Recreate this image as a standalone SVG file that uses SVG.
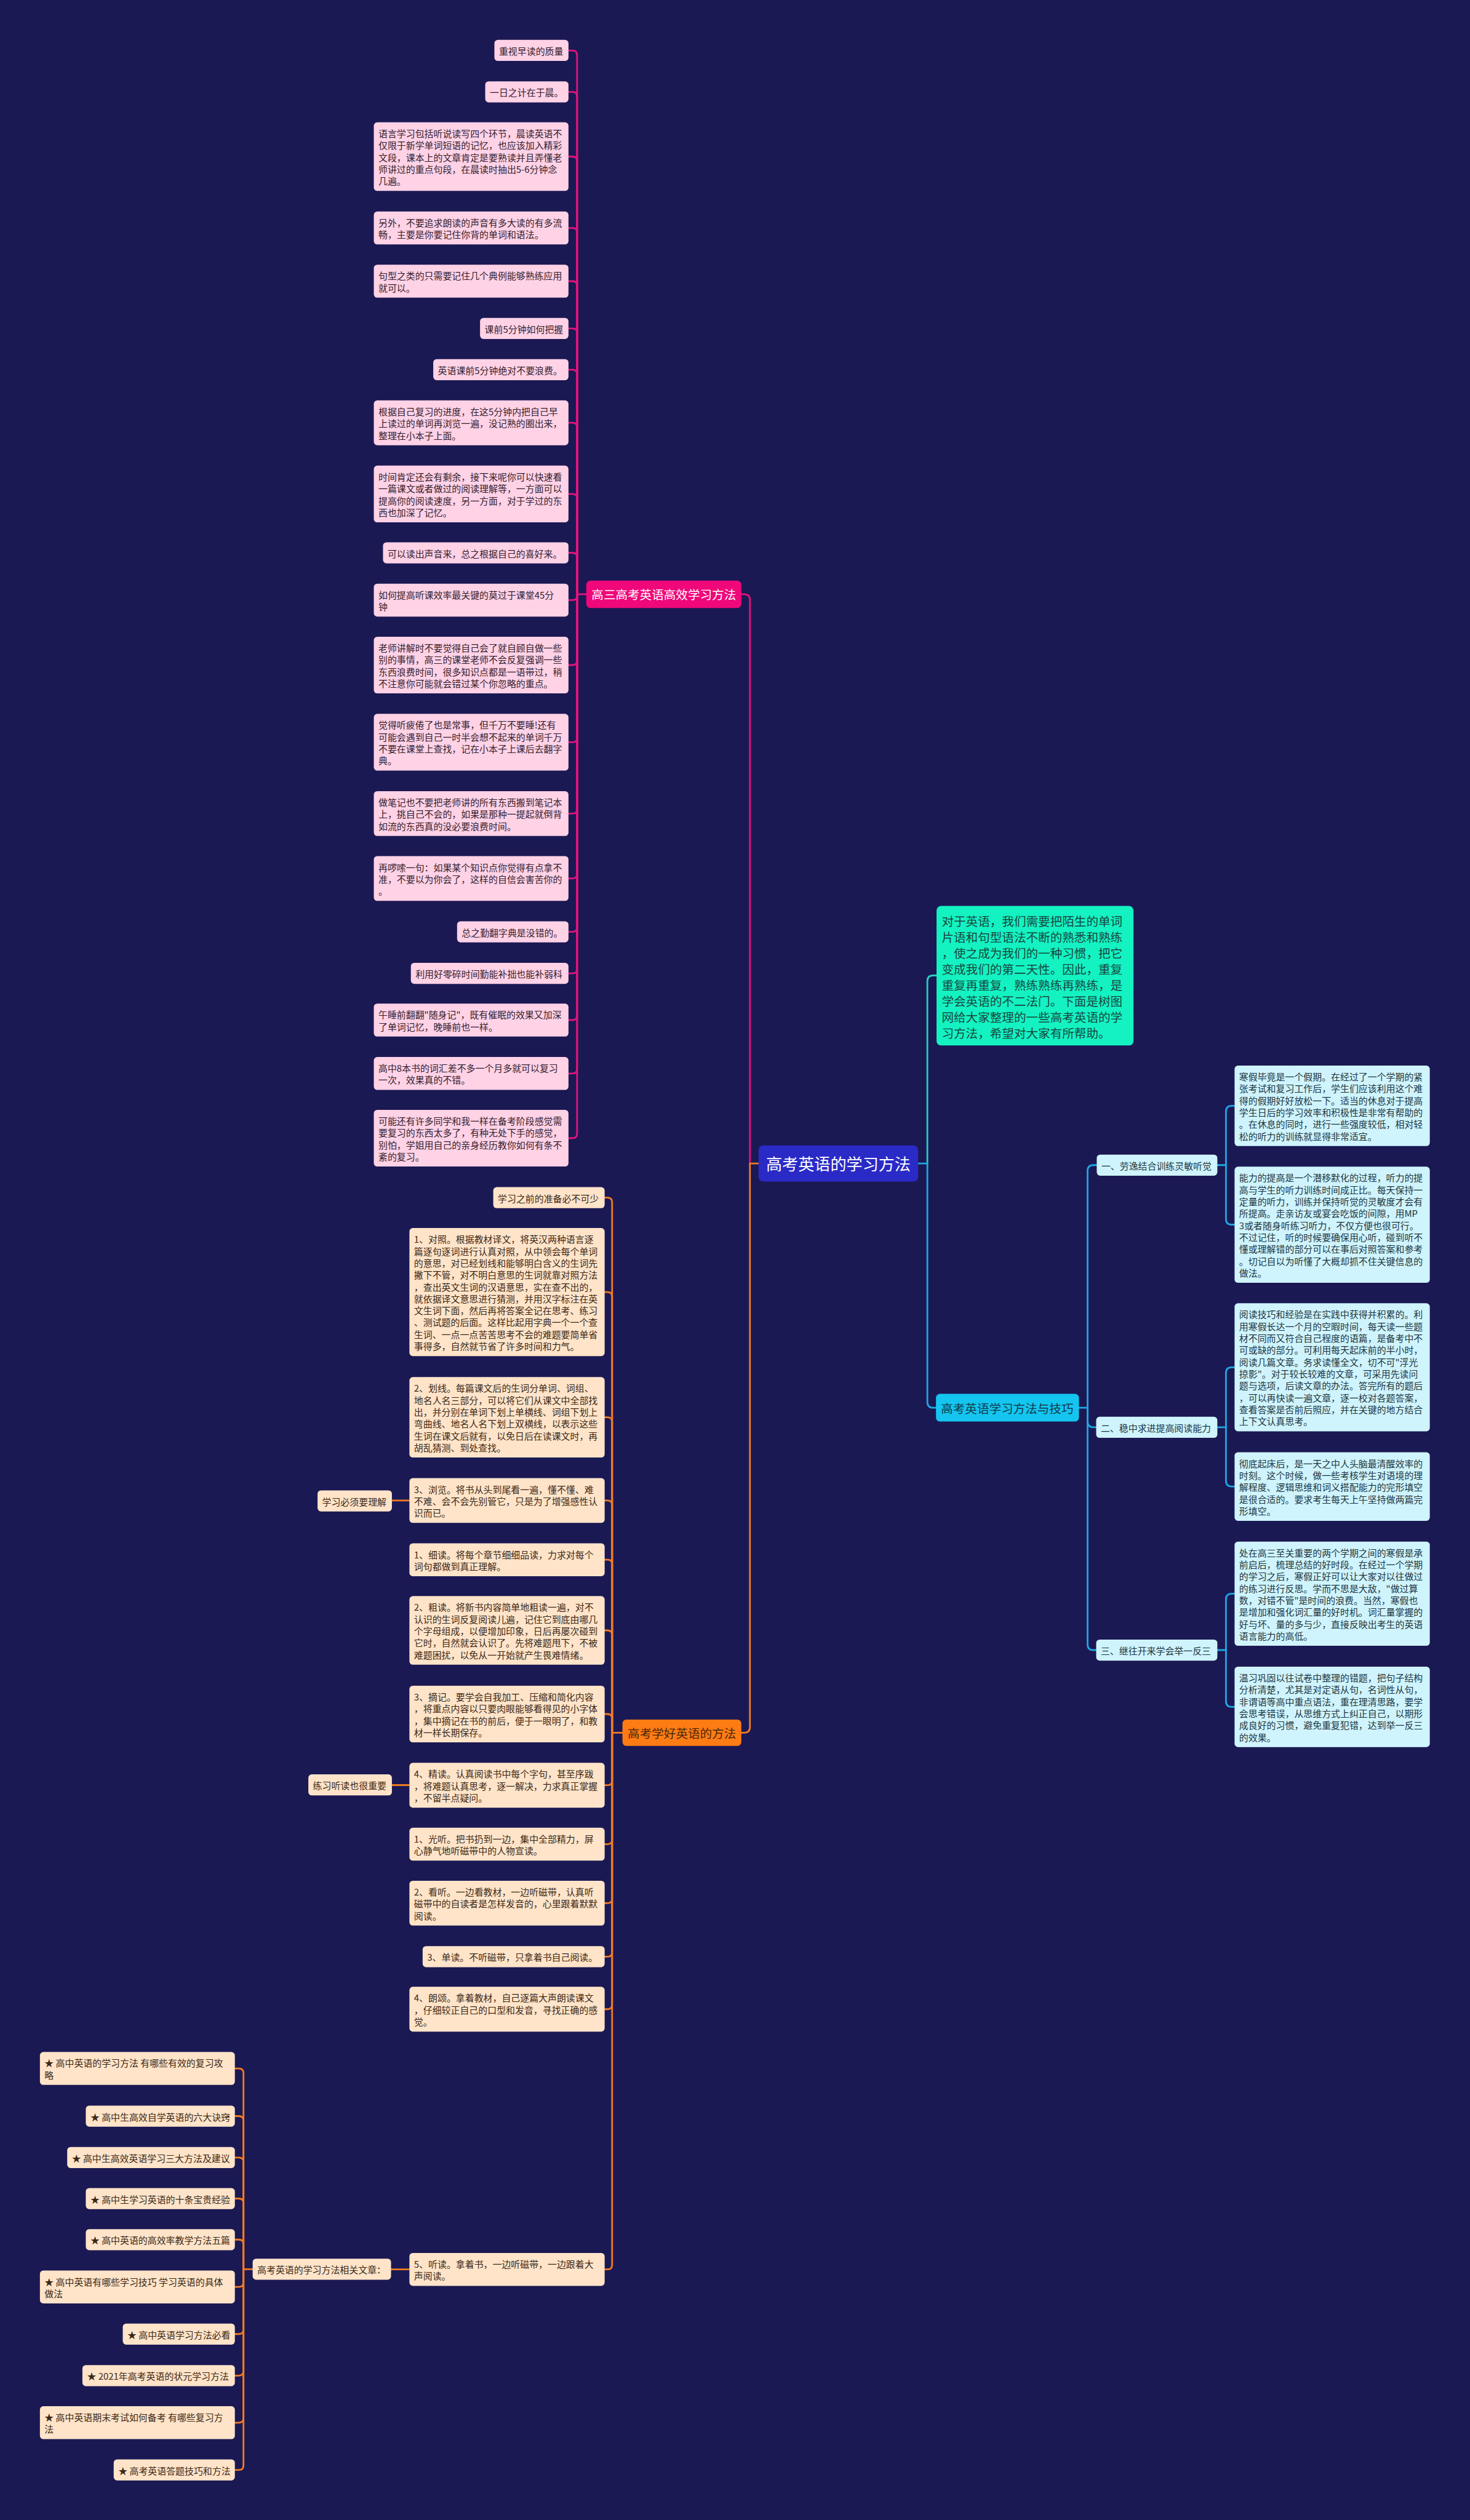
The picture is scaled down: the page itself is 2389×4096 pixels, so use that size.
<svg xmlns="http://www.w3.org/2000/svg" width="2389" height="4096" viewBox="0 0 2389 4096">
<style>
.c{fill:none;stroke-width:3;stroke-linecap:round;stroke-linejoin:round}
.cp{stroke:#e5137d}.co{stroke:#f27b22}.cb{stroke:#1ea8e4}.cg{stroke:#22cfc0}
.pk{fill:#ffd2e6}.or{fill:#ffe4c9}.bl{fill:#cff4fd}
.t{font-family:"Noto Sans CJK SC","Noto Sans",sans-serif;font-size:16px;dominant-baseline:central}
.tp{fill:#33202c}.to{fill:#3b2816}.tb{fill:#1c3440}
.big{font-family:"Noto Sans CJK SC","Noto Sans",sans-serif;dominant-baseline:central;text-anchor:middle}
</style>
<rect width="2389" height="4096" fill="#1b1953"/>
<g transform="scale(0.9332)">
<g id="connectors">
<path class="c co" d="M1321 2026.5 H1306"/>
<path class="c cp" d="M1306 2026.5 V1045 Q1306 1035 1296 1035 H1291"/>
<path class="c co" d="M1306 2026.5 V3008 Q1306 3018 1296 3018 H1291"/>
<path class="c cb" d="M1599 2026.5 H1615"/>
<path class="c cg" d="M1615 2026.5 V1709 Q1615 1699 1625 1699 H1631"/>
<path class="c cb" d="M1615 2026.5 V2442 Q1615 2452 1625 2452 H1630"/>
<path class="c cp" d="M1021 1035 H1005"/>
<path class="c cp" d="M1005 1035 V95.9 Q1005 87.9 997 87.9 H990"/>
<path class="c cp" d="M1005 1035 V168 Q1005 160 997 160 H990"/>
<path class="c cp" d="M1005 1035 V280.7 Q1005 272.7 997 272.7 H990"/>
<path class="c cp" d="M1005 1035 V405.1 Q1005 397.1 997 397.1 H990"/>
<path class="c cp" d="M1005 1035 V497.7 Q1005 489.7 997 489.7 H990"/>
<path class="c cp" d="M1005 1035 V580 Q1005 572 997 572 H990"/>
<path class="c cp" d="M1005 1035 V651.8 Q1005 643.8 997 643.8 H990"/>
<path class="c cp" d="M1005 1035 V744.4 Q1005 736.4 997 736.4 H990"/>
<path class="c cp" d="M1005 1035 V868.4 Q1005 860.4 997 860.4 H990"/>
<path class="c cp" d="M1005 1035 V970.8 Q1005 962.8 997 962.8 H990"/>
<path class="c cp" d="M1005 1035 V1037.3 Q1005 1045.3 997 1045.3 H990"/>
<path class="c cp" d="M1005 1035 V1150.4 Q1005 1158.4 997 1158.4 H990"/>
<path class="c cp" d="M1005 1035 V1284.8 Q1005 1292.8 997 1292.8 H990"/>
<path class="c cp" d="M1005 1035 V1409 Q1005 1417 997 1417 H990"/>
<path class="c cp" d="M1005 1035 V1522 Q1005 1530 997 1530 H990"/>
<path class="c cp" d="M1005 1035 V1615 Q1005 1623 997 1623 H990"/>
<path class="c cp" d="M1005 1035 V1687.4 Q1005 1695.4 997 1695.4 H990"/>
<path class="c cp" d="M1005 1035 V1768.7 Q1005 1776.7 997 1776.7 H990"/>
<path class="c cp" d="M1005 1035 V1861.7 Q1005 1869.7 997 1869.7 H990"/>
<path class="c cp" d="M1005 1035 V1974.4 Q1005 1982.4 997 1982.4 H990"/>
<path class="c co" d="M1084 3018 H1066"/>
<path class="c co" d="M1066 3018 V2094 Q1066 2086 1058 2086 H1053"/>
<path class="c co" d="M1066 3018 V2258.5 Q1066 2250.5 1058 2250.5 H1053"/>
<path class="c co" d="M1066 3018 V2476.6 Q1066 2468.6 1058 2468.6 H1053"/>
<path class="c co" d="M1066 3018 V2621.5 Q1066 2613.5 1058 2613.5 H1053"/>
<path class="c co" d="M1066 3018 V2724.7 Q1066 2716.7 1058 2716.7 H1053"/>
<path class="c co" d="M1066 3018 V2847.7 Q1066 2839.7 1058 2839.7 H1053"/>
<path class="c co" d="M1066 3018 V2993.4 Q1066 2985.4 1058 2985.4 H1053"/>
<path class="c co" d="M1066 3018 V3101.4 Q1066 3109.4 1058 3109.4 H1053"/>
<path class="c co" d="M1066 3018 V3204.1 Q1066 3212.1 1058 3212.1 H1053"/>
<path class="c co" d="M1066 3018 V3306.8 Q1066 3314.8 1058 3314.8 H1053"/>
<path class="c co" d="M1066 3018 V3400 Q1066 3408 1058 3408 H1053"/>
<path class="c co" d="M1066 3018 V3491.5 Q1066 3499.5 1058 3499.5 H1053"/>
<path class="c co" d="M1066 3018 V3944.7 Q1066 3952.7 1058 3952.7 H1053"/>
<path class="c co" d="M713 2613.5 H682.5"/>
<path class="c co" d="M713 3109.2 H682.5"/>
<path class="c co" d="M713 3952.6 H681"/>
<path class="c co" d="M440 3952.5 H424"/>
<path class="c co" d="M424 3952.5 V3610.7 Q424 3602.7 416 3602.7 H409"/>
<path class="c co" d="M424 3952.5 V3693.7 Q424 3685.7 416 3685.7 H409"/>
<path class="c co" d="M424 3952.5 V3765.8 Q424 3757.8 416 3757.8 H409"/>
<path class="c co" d="M424 3952.5 V3837.3 Q424 3829.3 416 3829.3 H409"/>
<path class="c co" d="M424 3952.5 V3908.8 Q424 3900.8 416 3900.8 H409"/>
<path class="c co" d="M424 3952.5 V3975.3 Q424 3983.3 416 3983.3 H409"/>
<path class="c co" d="M424 3952.5 V4057.3 Q424 4065.3 416 4065.3 H409"/>
<path class="c co" d="M424 3952.5 V4129.7 Q424 4137.7 416 4137.7 H409"/>
<path class="c co" d="M424 3952.5 V4211.7 Q424 4219.7 416 4219.7 H409"/>
<path class="c co" d="M424 3952.5 V4294 Q424 4302 416 4302 H409"/>
<path class="c cb" d="M1878.6 2452 H1894"/>
<path class="c cb" d="M1894 2452 V2039.3 Q1894 2029.3 1904 2029.3 H1910"/>
<path class="c cb" d="M1894 2452 V2476 Q1894 2486 1904 2486 H1909"/>
<path class="c cb" d="M1894 2452 V2864 Q1894 2874 1904 2874 H1909"/>
<path class="c cb" d="M2120 2029.3 H2135"/>
<path class="c cb" d="M2135 2029.3 V1936 Q2135 1926 2145 1926 H2150"/>
<path class="c cb" d="M2135 2029.3 V2123 Q2135 2133 2145 2133 H2150"/>
<path class="c cb" d="M2120 2486 H2135"/>
<path class="c cb" d="M2135 2486 V2391.5 Q2135 2381.5 2145 2381.5 H2150"/>
<path class="c cb" d="M2135 2486 V2579 Q2135 2589 2145 2589 H2150"/>
<path class="c cb" d="M2120 2874 H2135"/>
<path class="c cb" d="M2135 2874 V2785.8 Q2135 2775.8 2145 2775.8 H2150"/>
<path class="c cb" d="M2135 2874 V2962.9 Q2135 2972.9 2145 2972.9 H2150"/>
</g>

<g id="root">
<rect x="1321" y="1995" width="278" height="63" rx="8" fill="#2a2ac6"/>
<text class="big" x="1460" y="2026.5" font-size="28" fill="#ffffff">高考英语的学习方法</text>
</g>

<g id="branch-pink">
<rect x="1021" y="1011.3" width="270" height="47.7" rx="7" fill="#f0077a"/>
<text class="big" x="1156" y="1035" font-size="21" fill="#ffffff">高三高考英语高效学习方法</text>
</g>
<g id="p1"><rect class="pk" x="861" y="69.5" width="129" height="36.7" rx="6"/><text class="t tp"><tspan x="869" y="87.85">重视早读的质量</tspan></text></g>
<g id="p2"><rect class="pk" x="845" y="141.6" width="145" height="36.7" rx="6"/><text class="t tp"><tspan x="853" y="159.95">一日之计在于晨。</tspan></text></g>
<g id="p3"><rect class="pk" x="651" y="213" width="339" height="119.5" rx="6"/><text class="t tp"><tspan x="659" y="231.35">语言学习包括听说读写四个环节，晨读英语不</tspan><tspan x="659" y="252.05">仅限于新学单词短语的记忆，也应该加入精彩</tspan><tspan x="659" y="272.75">文段，课本上的文章肯定是要熟读并且弄懂老</tspan><tspan x="659" y="293.45">师讲过的重点句段，在晨读时抽出5-6分钟念</tspan><tspan x="659" y="314.15">几遍。</tspan></text></g>
<g id="p4"><rect class="pk" x="651" y="368.4" width="339" height="57.4" rx="6"/><text class="t tp"><tspan x="659" y="386.75">另外，不要追求朗读的声音有多大读的有多流</tspan><tspan x="659" y="407.45">畅，主要是你要记住你背的单词和语法。</tspan></text></g>
<g id="p5"><rect class="pk" x="651" y="461" width="339" height="57.4" rx="6"/><text class="t tp"><tspan x="659" y="479.35">句型之类的只需要记住几个典例能够熟练应用</tspan><tspan x="659" y="500.05">就可以。</tspan></text></g>
<g id="p6"><rect class="pk" x="836" y="553.7" width="154" height="36.7" rx="6"/><text class="t tp"><tspan x="844" y="572.05">课前5分钟如何把握</tspan></text></g>
<g id="p7"><rect class="pk" x="754.5" y="625.5" width="235.5" height="36.7" rx="6"/><text class="t tp"><tspan x="762.5" y="643.85">英语课前5分钟绝对不要浪费。</tspan></text></g>
<g id="p8"><rect class="pk" x="651" y="697.4" width="339" height="78.1" rx="6"/><text class="t tp"><tspan x="659" y="715.75">根据自己复习的进度，在这5分钟内把自己早</tspan><tspan x="659" y="736.45">上读过的单词再浏览一遍，没记熟的圈出来，</tspan><tspan x="659" y="757.15">整理在小本子上面。</tspan></text></g>
<g id="p9"><rect class="pk" x="651" y="811" width="339" height="98.8" rx="6"/><text class="t tp"><tspan x="659" y="829.35">时间肯定还会有剩余，接下来呢你可以快速看</tspan><tspan x="659" y="850.05">一篇课文或者做过的阅读理解等，一方面可以</tspan><tspan x="659" y="870.75">提高你的阅读速度，另一方面，对于学过的东</tspan><tspan x="659" y="891.45">西也加深了记忆。</tspan></text></g>
<g id="p10"><rect class="pk" x="667" y="944.5" width="323" height="36.7" rx="6"/><text class="t tp"><tspan x="675" y="962.85">可以读出声音来，总之根据自己的喜好来。</tspan></text></g>
<g id="p11"><rect class="pk" x="651" y="1016.6" width="339" height="57.4" rx="6"/><text class="t tp"><tspan x="659" y="1034.95">如何提高听课效率最关键的莫过于课堂45分</tspan><tspan x="659" y="1055.65">钟</tspan></text></g>
<g id="p12"><rect class="pk" x="651" y="1109" width="339" height="98.8" rx="6"/><text class="t tp"><tspan x="659" y="1127.35">老师讲解时不要觉得自己会了就自顾自做一些</tspan><tspan x="659" y="1148.05">别的事情，高三的课堂老师不会反复强调一些</tspan><tspan x="659" y="1168.75">东西浪费时间，很多知识点都是一语带过，稍</tspan><tspan x="659" y="1189.45">不注意你可能就会错过某个你忽略的重点。</tspan></text></g>
<g id="p13"><rect class="pk" x="651" y="1243.4" width="339" height="98.8" rx="6"/><text class="t tp"><tspan x="659" y="1261.75">觉得听疲倦了也是常事，但千万不要睡!还有</tspan><tspan x="659" y="1282.45">可能会遇到自己一时半会想不起来的单词千万</tspan><tspan x="659" y="1303.15">不要在课堂上查找，记在小本子上课后去翻字</tspan><tspan x="659" y="1323.85">典。</tspan></text></g>
<g id="p14"><rect class="pk" x="651" y="1378" width="339" height="78.1" rx="6"/><text class="t tp"><tspan x="659" y="1396.35">做笔记也不要把老师讲的所有东西搬到笔记本</tspan><tspan x="659" y="1417.05">上，挑自己不会的，如果是那种一提起就倒背</tspan><tspan x="659" y="1437.75">如流的东西真的没必要浪费时间。</tspan></text></g>
<g id="p15"><rect class="pk" x="651" y="1491" width="339" height="78.1" rx="6"/><text class="t tp"><tspan x="659" y="1509.35">再啰嗦一句：如果某个知识点你觉得有点拿不</tspan><tspan x="659" y="1530.05">准，不要以为你会了，这样的自信会害苦你的</tspan><tspan x="659" y="1550.75">。</tspan></text></g>
<g id="p16"><rect class="pk" x="796" y="1604.6" width="194" height="36.7" rx="6"/><text class="t tp"><tspan x="804" y="1622.95">总之勤翻字典是没错的。</tspan></text></g>
<g id="p17"><rect class="pk" x="715.5" y="1677" width="274.5" height="36.7" rx="6"/><text class="t tp"><tspan x="723.5" y="1695.35">利用好零碎时间勤能补拙也能补弱科</tspan></text></g>
<g id="p18"><rect class="pk" x="651" y="1748" width="339" height="57.4" rx="6"/><text class="t tp"><tspan x="659" y="1766.35">午睡前翻翻"随身记"，既有催眠的效果又加深</tspan><tspan x="659" y="1787.05">了单词记忆，晚睡前也一样。</tspan></text></g>
<g id="p19"><rect class="pk" x="651" y="1841" width="339" height="57.4" rx="6"/><text class="t tp"><tspan x="659" y="1859.35">高中8本书的词汇差不多一个月多就可以复习</tspan><tspan x="659" y="1880.05">一次，效果真的不错。</tspan></text></g>
<g id="p20"><rect class="pk" x="651" y="1933" width="339" height="98.8" rx="6"/><text class="t tp"><tspan x="659" y="1951.35">可能还有许多同学和我一样在备考阶段感觉需</tspan><tspan x="659" y="1972.05">要复习的东西太多了，有种无处下手的感觉，</tspan><tspan x="659" y="1992.75">别怕，学姐用自己的亲身经历教你如何有条不</tspan><tspan x="659" y="2013.45">紊的复习。</tspan></text></g>

<g id="branch-orange">
<rect x="1084" y="2995" width="207" height="46" rx="7" fill="#ff7c14"/>
<text class="big" x="1187.5" y="3018" font-size="21" fill="#4a2606">高考学好英语的方法</text>
</g>
<g id="o1"><rect class="or" x="859" y="2067.7" width="194" height="36.7" rx="6"/><text class="t to"><tspan x="867" y="2086.05">学习之前的准备必不可少</tspan></text></g>
<g id="o2"><rect class="or" x="713" y="2139" width="340" height="223" rx="6"/><text class="t to"><tspan x="721" y="2157.35">1、对照。根据教材译文，将英汉两种语言逐</tspan><tspan x="721" y="2178.05">篇逐句逐词进行认真对照，从中领会每个单词</tspan><tspan x="721" y="2198.75">的意思，对已经划线和能够明白含义的生词先</tspan><tspan x="721" y="2219.45">撇下不管，对不明白意思的生词就靠对照方法</tspan><tspan x="721" y="2240.15">，查出英文生词的汉语意思，实在查不出的，</tspan><tspan x="721" y="2260.85">就依据译文意思进行猜测，并用汉字标注在英</tspan><tspan x="721" y="2281.55">文生词下面，然后再将答案全记在思考、练习</tspan><tspan x="721" y="2302.25">、测试题的后面。这样比起用字典一个一个查</tspan><tspan x="721" y="2322.95">生词、一点一点苦苦思考不会的难题要简单省</tspan><tspan x="721" y="2343.65">事得多，自然就节省了许多时间和力气。</tspan></text></g>
<g id="o3"><rect class="or" x="713" y="2398.5" width="340" height="140.2" rx="6"/><text class="t to"><tspan x="721" y="2416.85">2、划线。每篇课文后的生词分单词、词组、</tspan><tspan x="721" y="2437.55">地名人名三部分，可以将它们从课文中全部找</tspan><tspan x="721" y="2458.25">出，并分别在单词下划上单横线、词组下划上</tspan><tspan x="721" y="2478.95">弯曲线、地名人名下划上双横线，以表示这些</tspan><tspan x="721" y="2499.65">生词在课文后就有，以免日后在读课文时，再</tspan><tspan x="721" y="2520.35">胡乱猜测、到处查找。</tspan></text></g>
<g id="o4"><rect class="or" x="713" y="2574.4" width="340" height="78.1" rx="6"/><text class="t to"><tspan x="721" y="2592.75">3、浏览。将书从头到尾看一遍，懂不懂、难</tspan><tspan x="721" y="2613.45">不难、会不会先别管它，只是为了增强感性认</tspan><tspan x="721" y="2634.15">识而已。</tspan></text></g>
<g id="s1"><rect class="or" x="553" y="2595.8" width="129.5" height="36.7" rx="6"/><text class="t to"><tspan x="561" y="2614.15">学习必须要理解</tspan></text></g>
<g id="o5"><rect class="or" x="713" y="2688" width="340" height="57.4" rx="6"/><text class="t to"><tspan x="721" y="2706.35">1、细读。将每个章节细细品读，力求对每个</tspan><tspan x="721" y="2727.05">词句都做到真正理解。</tspan></text></g>
<g id="o6"><rect class="or" x="713" y="2780" width="340" height="119.5" rx="6"/><text class="t to"><tspan x="721" y="2798.35">2、粗读。将新书内容简单地粗读一遍，对不</tspan><tspan x="721" y="2819.05">认识的生词反复阅读儿遍，记住它到底由哪几</tspan><tspan x="721" y="2839.75">个字母组成，以便增加印象，日后再屡次碰到</tspan><tspan x="721" y="2860.45">它时，自然就会认识了。先将难题甩下，不被</tspan><tspan x="721" y="2881.15">难题困扰，以免从一开始就产生畏难情绪。</tspan></text></g>
<g id="o7"><rect class="or" x="713" y="2936" width="340" height="98.8" rx="6"/><text class="t to"><tspan x="721" y="2954.35">3、摘记。要学会自我加工、压缩和简化内容</tspan><tspan x="721" y="2975.05">，将重点内容以只要肉眼能够看得见的小字体</tspan><tspan x="721" y="2995.75">，集中摘记在书的前后，便于一眼明了，和教</tspan><tspan x="721" y="3016.45">材一样长期保存。</tspan></text></g>
<g id="o8"><rect class="or" x="713" y="3070.4" width="340" height="78.1" rx="6"/><text class="t to"><tspan x="721" y="3088.75">4、精读。认真阅读书中每个字句，甚至序跋</tspan><tspan x="721" y="3109.45">，将难题认真思考，逐一解决，力求真正掌握</tspan><tspan x="721" y="3130.15">，不留半点疑问。</tspan></text></g>
<g id="s2"><rect class="or" x="537" y="3090.5" width="145.5" height="36.7" rx="6"/><text class="t to"><tspan x="545" y="3108.85">练习听读也很重要</tspan></text></g>
<g id="o9"><rect class="or" x="713" y="3183.4" width="340" height="57.4" rx="6"/><text class="t to"><tspan x="721" y="3201.75">1、光听。把书扔到一边，集中全部精力，屏</tspan><tspan x="721" y="3222.45">心静气地听磁带中的人物宣读。</tspan></text></g>
<g id="o10"><rect class="or" x="713" y="3275.8" width="340" height="78.1" rx="6"/><text class="t to"><tspan x="721" y="3294.15">2、看听。一边看教材，一边听磁带，认真听</tspan><tspan x="721" y="3314.85">磁带中的自读者是怎样发音的，心里跟着默默</tspan><tspan x="721" y="3335.55">阅读。</tspan></text></g>
<g id="o11"><rect class="or" x="736" y="3389.6" width="317" height="36.7" rx="6"/><text class="t to"><tspan x="744" y="3407.95">3、单读。不听磁带，只拿着书自己阅读。</tspan></text></g>
<g id="o12"><rect class="or" x="713" y="3460.5" width="340" height="78.1" rx="6"/><text class="t to"><tspan x="721" y="3478.85">4、朗颂。拿着教材，自己逐篇大声朗读课文</tspan><tspan x="721" y="3499.55">，仔细较正自己的口型和发音，寻找正确的感</tspan><tspan x="721" y="3520.25">觉。</tspan></text></g>
<g id="o13"><rect class="or" x="713" y="3924" width="340" height="57.4" rx="6"/><text class="t to"><tspan x="721" y="3942.35">5、听读。拿着书，一边听磁带，一边跟着大</tspan><tspan x="721" y="3963.05">声阅读。</tspan></text></g>
<g id="s3"><rect class="or" x="440" y="3934" width="241" height="36.7" rx="6"/><text class="t to"><tspan x="448" y="3952.35">高考英语的学习方法相关文章：</tspan></text></g>
<g id="st1"><rect class="or" x="69.5" y="3574" width="339.5" height="57.4" rx="6"/><text class="t to"><tspan x="77.5" y="3592.35">★ 高中英语的学习方法 有哪些有效的复习攻</tspan><tspan x="77.5" y="3613.05">略</tspan></text></g>
<g id="st2"><rect class="or" x="149.4" y="3667.4" width="259.6" height="36.7" rx="6"/><text class="t to"><tspan x="157.4" y="3685.75">★ 高中生高效自学英语的六大诀窍</tspan></text></g>
<g id="st3"><rect class="or" x="117" y="3739.5" width="292" height="36.7" rx="6"/><text class="t to"><tspan x="125" y="3757.85">★ 高中生高效英语学习三大方法及建议</tspan></text></g>
<g id="st4"><rect class="or" x="149.4" y="3811" width="259.6" height="36.7" rx="6"/><text class="t to"><tspan x="157.4" y="3829.35">★ 高中生学习英语的十条宝贵经验</tspan></text></g>
<g id="st5"><rect class="or" x="149.4" y="3882.5" width="259.6" height="36.7" rx="6"/><text class="t to"><tspan x="157.4" y="3900.85">★ 高中英语的高效率教学方法五篇</tspan></text></g>
<g id="st6"><rect class="or" x="69.5" y="3954.6" width="339.5" height="57.4" rx="6"/><text class="t to"><tspan x="77.5" y="3972.95">★ 高中英语有哪些学习技巧 学习英语的具体</tspan><tspan x="77.5" y="3993.65">做法</tspan></text></g>
<g id="st7"><rect class="or" x="213.8" y="4047" width="195.2" height="36.7" rx="6"/><text class="t to"><tspan x="221.8" y="4065.35">★ 高中英语学习方法必看</tspan></text></g>
<g id="st8"><rect class="or" x="143.5" y="4119.4" width="265.5" height="36.7" rx="6"/><text class="t to"><tspan x="151.5" y="4137.75">★ 2021年高考英语的状元学习方法</tspan></text></g>
<g id="st9"><rect class="or" x="69.5" y="4191" width="339.5" height="57.4" rx="6"/><text class="t to"><tspan x="77.5" y="4209.35">★ 高中英语期末考试如何备考 有哪些复习方</tspan><tspan x="77.5" y="4230.05">法</tspan></text></g>
<g id="st10"><rect class="or" x="198" y="4283.6" width="211" height="36.7" rx="6"/><text class="t to"><tspan x="206" y="4301.95">★ 高考英语答题技巧和方法</tspan></text></g>

<g id="intro">
<rect x="1631" y="1578" width="343" height="243" rx="8" fill="#14f2c2"/>
<text class="t" font-size="21" fill="#17463e" style="font-size:21px"><tspan x="1640" y="1603">对于英语，我们需要把陌生的单词</tspan><tspan x="1640" y="1630.9">片语和句型语法不断的熟悉和熟练</tspan><tspan x="1640" y="1658.8">，使之成为我们的一种习惯，把它</tspan><tspan x="1640" y="1686.7">变成我们的第二天性。因此，重复</tspan><tspan x="1640" y="1714.6">重复再重复，熟练熟练再熟练，是</tspan><tspan x="1640" y="1742.5">学会英语的不二法门。下面是树图</tspan><tspan x="1640" y="1770.4">网给大家整理的一些高考英语的学</tspan><tspan x="1640" y="1798.3">习方法，希望对大家有所帮助。</tspan></text>
</g>

<g id="branch-blue">
<rect x="1630" y="2427.7" width="249" height="48.3" rx="7" fill="#14c5ef"/>
<text class="big" x="1754" y="2452" font-size="21" fill="#0f3a4c">高考英语学习方法与技巧</text>
</g>
<g id="b1"><rect class="bl" x="1910" y="2011" width="210" height="36.7" rx="6"/><text class="t tb"><tspan x="1918" y="2029.35">一、劳逸结合训练灵敏听觉</tspan></text></g>
<g id="b2"><rect class="bl" x="1909" y="2467.7" width="211" height="36.7" rx="6"/><text class="t tb"><tspan x="1917" y="2486.05">二、稳中求进提高阅读能力</tspan></text></g>
<g id="b3"><rect class="bl" x="1909" y="2855.7" width="211" height="36.7" rx="6"/><text class="t tb"><tspan x="1917" y="2874.05">三、继往开来学会举一反三</tspan></text></g>
<g id="l1"><rect class="bl" x="2150" y="1856" width="340" height="140.2" rx="6"/><text class="t tb"><tspan x="2158" y="1874.35">寒假毕竟是一个假期。在经过了一个学期的紧</tspan><tspan x="2158" y="1895.05">张考试和复习工作后，学生们应该利用这个难</tspan><tspan x="2158" y="1915.75">得的假期好好放松一下。适当的休息对于提高</tspan><tspan x="2158" y="1936.45">学生日后的学习效率和积极性是非常有帮助的</tspan><tspan x="2158" y="1957.15">。在休息的同时，进行一些强度较低，相对轻</tspan><tspan x="2158" y="1977.85">松的听力的训练就显得非常适宜。</tspan></text></g>
<g id="l2"><rect class="bl" x="2150" y="2032" width="340" height="202.3" rx="6"/><text class="t tb"><tspan x="2158" y="2050.35">能力的提高是一个潜移默化的过程，听力的提</tspan><tspan x="2158" y="2071.05">高与学生的听力训练时间成正比。每天保持一</tspan><tspan x="2158" y="2091.75">定量的听力，训练并保持听觉的灵敏度才会有</tspan><tspan x="2158" y="2112.45">所提高。走亲访友或宴会吃饭的间隙，用MP</tspan><tspan x="2158" y="2133.15">3或者随身听练习听力，不仅方便也很可行。</tspan><tspan x="2158" y="2153.85">不过记住，听的时候要确保用心听，碰到听不</tspan><tspan x="2158" y="2174.55">懂或理解错的部分可以在事后对照答案和参考</tspan><tspan x="2158" y="2195.25">。切记自以为听懂了大概却抓不住关键信息的</tspan><tspan x="2158" y="2215.95">做法。</tspan></text></g>
<g id="l3"><rect class="bl" x="2150" y="2270" width="340" height="223" rx="6"/><text class="t tb"><tspan x="2158" y="2288.35">阅读技巧和经验是在实践中获得并积累的。利</tspan><tspan x="2158" y="2309.05">用寒假长达一个月的空暇时间，每天读一些题</tspan><tspan x="2158" y="2329.75">材不同而又符合自己程度的语篇，是备考中不</tspan><tspan x="2158" y="2350.45">可或缺的部分。可利用每天起床前的半小时，</tspan><tspan x="2158" y="2371.15">阅读几篇文章。务求读懂全文，切不可"浮光</tspan><tspan x="2158" y="2391.85">掠影"。对于较长较难的文章，可采用先读问</tspan><tspan x="2158" y="2412.55">题与选项，后读文章的办法。答完所有的题后</tspan><tspan x="2158" y="2433.25">，可以再快读一遍文章，逐一校对各题答案，</tspan><tspan x="2158" y="2453.95">查看答案是否前后照应，并在关键的地方结合</tspan><tspan x="2158" y="2474.65">上下文认真思考。</tspan></text></g>
<g id="l4"><rect class="bl" x="2150" y="2529.4" width="340" height="119.5" rx="6"/><text class="t tb"><tspan x="2158" y="2547.75">彻底起床后，是一天之中人头脑最清醒效率的</tspan><tspan x="2158" y="2568.45">时刻。这个时候，做一些考核学生对语境的理</tspan><tspan x="2158" y="2589.15">解程度、逻辑思维和词义搭配能力的完形填空</tspan><tspan x="2158" y="2609.85">是很合适的。要求考生每天上午坚持做两篇完</tspan><tspan x="2158" y="2630.55">形填空。</tspan></text></g>
<g id="l5"><rect class="bl" x="2150" y="2685" width="340" height="181.6" rx="6"/><text class="t tb"><tspan x="2158" y="2703.35">处在高三至关重要的两个学期之间的寒假是承</tspan><tspan x="2158" y="2724.05">前启后，梳理总结的好时段。在经过一个学期</tspan><tspan x="2158" y="2744.75">的学习之后，寒假正好可以让大家对以往做过</tspan><tspan x="2158" y="2765.45">的练习进行反思。学而不思是大敌，"做过算</tspan><tspan x="2158" y="2786.15">数，对错不管"是时间的浪费。当然，寒假也</tspan><tspan x="2158" y="2806.85">是增加和强化词汇量的好时机。词汇量掌握的</tspan><tspan x="2158" y="2827.55">好与坏、量的多与少，直接反映出考生的英语</tspan><tspan x="2158" y="2848.25">语言能力的高低。</tspan></text></g>
<g id="l6"><rect class="bl" x="2150" y="2902.8" width="340" height="140.2" rx="6"/><text class="t tb"><tspan x="2158" y="2921.15">温习巩固以往试卷中整理的错题，把句子结构</tspan><tspan x="2158" y="2941.85">分析清楚，尤其是对定语从句，名词性从句，</tspan><tspan x="2158" y="2962.55">非谓语等高中重点语法，重在理清思路，要学</tspan><tspan x="2158" y="2983.25">会思考错误，从思维方式上纠正自己，以期形</tspan><tspan x="2158" y="3003.95">成良好的习惯，避免重复犯错，达到举一反三</tspan><tspan x="2158" y="3024.65">的效果。</tspan></text></g>
</g>
</svg>
